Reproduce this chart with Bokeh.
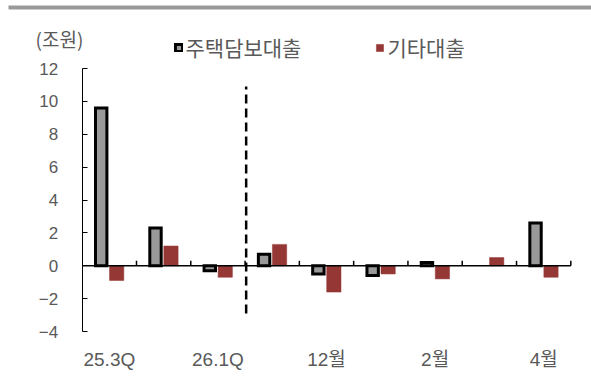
from bokeh.plotting import figure
from bokeh.models import (ColumnDataSource, FixedTicker, Label, BoxAnnotation,
                          Legend, LegendItem, Range1d, LinearAxis)
from bokeh.embed import file_html
from bokeh.resources import INLINE

# ---- data ----
categories = ["25.3Q", "25.4Q", "26.1Q", "11월", "12월", "1월", "2월", "3월", "4월"]
shown_labels = ["25.3Q", "26.1Q", "12월", "2월", "4월"]
mortgage = [9.6, 2.3, -0.3, 0.7, -0.5, -0.6, 0.2, None, 2.6]   # 주택담보대출
other = [-0.9, 1.2, -0.7, 1.3, -1.6, -0.5, -0.8, 0.5, -0.7]     # 기타대출
y_ticks = [-4, -2, 0, 2, 4, 6, 8, 10, 12]
unit_label = "(조원)"
series_names = ["주택담보대출", "기타대출"]

FONT = "Liberation Sans, Noto Sans CJK KR"
KFONT = "Noto Sans CJK KR"
TXT = "#595959"
GREY = "#999999"
RED = "#953735"

n = len(categories)
idx = list(range(n))
m_idx = [i for i in idx if mortgage[i] is not None]
src_m = ColumnDataSource(dict(x=[i - 0.15 for i in m_idx], top=[mortgage[i] for i in m_idx]))
src_o = ColumnDataSource(dict(x=[i + 0.135 for i in idx], top=other))

# frame covers the whole canvas; ranges chosen so the plot area sits where the reference has it
X0, X1 = -2.005, 8.881
p = figure(width=591, height=385, output_backend="svg", toolbar_location=None,
           x_range=Range1d(X0, X1), y_range=Range1d(-7.285, 16.137),
           x_axis_location=None, y_axis_location=None,
           min_border=0, min_border_left=0, min_border_right=0,
           min_border_top=0, min_border_bottom=0)
p.outline_line_color = None
p.xgrid.visible = False
p.ygrid.visible = False
p.background_fill_color = "white"
p.border_fill_color = "white"

r_m = p.vbar(x="x", top="top", bottom=0, width=0.21, source=src_m,
             fill_color=GREY, line_color="black", line_width=3, line_join="miter")
r_o = p.vbar(x="x", top="top", bottom=0, width=0.263, source=src_o,
             fill_color=RED, line_color=RED, line_width=0.5)

# zero line across the category span
p.segment(x0=[-0.5], y0=[0], x1=[n - 0.5], y1=[0], line_color="black", line_width=1.5)

# category boundary ticks on the zero line
bx = [i + 0.5 for i in idx]
p.segment(x0=bx, y0=[0] * len(bx), x1=bx, y1=[0.3] * len(bx), line_color="black", line_width=1.5)

# dashed separator between quarters and months
p.segment(x0=[2.52], y0=[-2.9], x1=[2.52], y1=[10.9], line_color="black",
          line_width=2.5, line_dash="9 5")

# y axis
ya = LinearAxis(fixed_location=-0.5, bounds=(-4, 12), ticker=FixedTicker(ticks=y_ticks))
ya.axis_line_color = "black"
ya.axis_line_width = 1
ya.major_tick_in = 5
ya.major_tick_out = 0
ya.major_tick_line_color = "black"
ya.minor_tick_line_color = None
ya.major_label_standoff = 24
ya.major_label_text_font = FONT
ya.major_label_text_font_size = "17px"
ya.major_label_text_color = TXT
p.add_layout(ya, "left")

# x axis (labels only)
label_pos = [categories.index(c) for c in shown_labels]
xa = LinearAxis(fixed_location=-4, ticker=FixedTicker(ticks=label_pos))
xa.major_label_overrides = {i: categories[i] for i in label_pos}
xa.axis_line_color = None
xa.major_tick_line_color = None
xa.minor_tick_line_color = None
xa.major_label_standoff = 11
xa.major_label_text_font = FONT
xa.major_label_text_font_size = "19px"
xa.major_label_text_color = TXT
p.add_layout(xa, "below")

# top grey rule
p.add_layout(BoxAnnotation(left=-1.8575, right=X1, top=15.833, bottom=15.59,
                           fill_color=GREY, fill_alpha=1, line_color=None, line_alpha=0))

# unit label
p.add_layout(Label(x=-1.36, y=13.825, text=unit_label, text_font=KFONT,
                   text_font_size="19px", text_color=TXT, text_baseline="middle",
                   text_align="left"))

legend = Legend(items=[LegendItem(label=series_names[0], renderers=[r_m]),
                       LegendItem(label=series_names[1], renderers=[r_o])],
                orientation="horizontal", location=(173.5, 323), padding=0, margin=0,
                spacing=74, glyph_width=9, glyph_height=9, label_standoff=3,
                border_line_color=None, background_fill_alpha=0,
                label_text_font=KFONT, label_text_font_size="21px", label_text_color=TXT)
p.add_layout(legend)

open("out.html", "w").write(file_html(p, INLINE))
